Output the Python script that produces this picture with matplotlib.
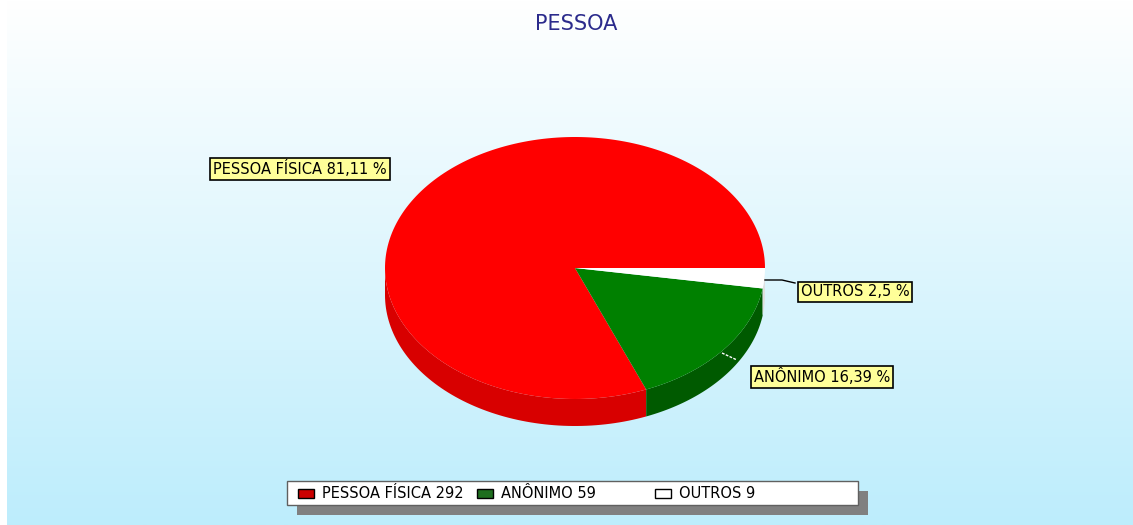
import numpy as np
import matplotlib.pyplot as plt
from matplotlib.patches import Polygon, Rectangle
from matplotlib.colors import LinearSegmentedColormap

# dados
categorias = ['PESSOA FÍSICA', 'ANÔNIMO', 'OUTROS']
valores = [292, 59, 9]
cores_topo = ['#ff0000', '#008000', '#ffffff']
cores_lado = ['#d80000', '#005a00', '#e0e0e0']
cores_leg = ['#cc0000', '#1e6e1e', '#ffffff']

# geometria da pizza (pixels)
cx, cy = 575, 268
rx, ry = 190, 131
prof = 27

fig = plt.figure(figsize=(11.33, 5.25), dpi=100)
ax = fig.add_axes([0, 0, 1, 1])
ax.set_xlim(0, 1133)
ax.set_ylim(525, 0)
ax.axis('off')

# fundo em degradê
cmap = LinearSegmentedColormap.from_list('fundo', ['#ffffff', '#bdedfc'])
grad = np.linspace(0, 1, 256).reshape(-1, 1)
ax.imshow(grad, cmap=cmap, extent=[7, 1133, 525, 0], aspect='auto', zorder=0)

ax.text(576, 24, 'PESSOA', ha='center', va='center', fontsize=15,
        color='#2b2b8c', family='DejaVu Sans', zorder=5)


def ponto(theta, dy=0):
    t = np.radians(theta)
    return cx + rx * np.cos(t), cy - ry * np.sin(t) + dy


total = sum(valores)
angulos = [0]
for v in valores:
    angulos.append(angulos[-1] + 360 * v / total)

# laterais (parte frontal: 180..360)
for i in range(len(valores)):
    a1, a2 = angulos[i], angulos[i + 1]
    for lo, hi in [(a1, a2), (a1 - 360, a2 - 360)]:
        s, e = max(lo, -180), min(hi, 0)
        if s >= e:
            continue
        th = np.linspace(s, e, 80)
        top = [ponto(t) for t in th]
        bot = [ponto(t, prof) for t in th[::-1]]
        ax.add_patch(Polygon(top + bot, closed=True, fc=cores_lado[i],
                             ec='none', zorder=2))

# topos
for i in range(len(valores)):
    th = np.linspace(angulos[i], angulos[i + 1], 200)
    pts = [(cx, cy)] + [ponto(t) for t in th]
    ax.add_patch(Polygon(pts, closed=True, fc=cores_topo[i], ec='none', zorder=3))

# rótulos
rotulos = ['%s %s %%' % (c, ('%.2f' % (100 * v / total)).rstrip('0').replace('.', ','))
           for c, v in zip(categorias, valores)]
pos_rot = [(300, 169), (822, 377), (855, 292)]
for txt, (x, y) in zip(rotulos, pos_rot):
    ax.text(x, y, txt, ha='center', va='center', fontsize=10.5, family='DejaVu Sans',
            zorder=6, bbox=dict(boxstyle='square,pad=0.2', fc='#ffff99', ec='black', lw=1.2))

# linhas de chamada
ax.plot([765, 782, 795], [280, 280, 283], color='black', lw=1, zorder=5)
ax.plot([722, 737], [353, 360], color='white', lw=1, ls=(0, (2, 1)), zorder=5)

# legenda
ax.add_patch(Rectangle((297, 491), 571, 24, fc='#808080', ec='none', zorder=4))
ax.add_patch(Rectangle((287, 481), 571, 24, fc='white', ec='#606060', lw=1, zorder=5))
leg_x = [298, 477, 655]
for i, (c, v) in enumerate(zip(categorias, valores)):
    ax.add_patch(Rectangle((leg_x[i], 489), 16, 9, fc=cores_leg[i], ec='black',
                           lw=1, zorder=6))
    ax.text(leg_x[i] + 24, 493, '%s %d' % (c, v), ha='left', va='center',
            fontsize=10.5, family='DejaVu Sans', zorder=6)

fig.savefig('out.png', dpi=100)
